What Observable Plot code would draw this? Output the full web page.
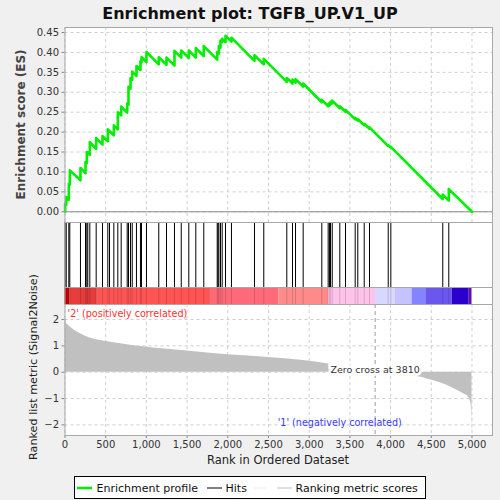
<!DOCTYPE html>
<html><head><meta charset="utf-8">
<script src="https://cdn.jsdelivr.net/npm/d3@7"></script>
<script src="https://cdn.jsdelivr.net/npm/@observablehq/plot@0.6"></script>
<style>
html,body{margin:0;padding:0;background:#f0f0f0;}
#root{position:relative;width:500px;height:500px;background:#f0f0f0;overflow:hidden;font-family:"DejaVu Sans",sans-serif;}
#root svg{position:absolute;left:0;}
</style></head><body><div id="root"></div>
<script>
// ---------- data ----------
const title = "Enrichment plot: TGFB_UP.V1_UP";
const hitRanks = [2, 15, 47, 59, 190, 252, 268, 280, 305, 383, 461, 526, 547, 600, 649, 690, 764, 780, 805, 826, 878, 927, 940, 1001, 1152, 1247, 1345, 1428, 1521, 1607, 1705, 1870, 1880, 1890, 1910, 1931, 1972, 2045, 2328, 2442, 2725, 2795, 2832, 2926, 3155, 3233, 3249, 3262, 3283, 3376, 3446, 3565, 3597, 3676, 3741, 3971, 4003, 4641, 4715];
const esRanks = [0, 2, 2, 15, 15, 47, 47, 59, 59, 190, 190, 252, 252, 268, 268, 305, 305, 383, 383, 461, 461, 526, 526, 600, 600, 649, 649, 690, 690, 764, 764, 780, 780, 805, 805, 826, 826, 878, 878, 927, 927, 940, 940, 1001, 1001, 1152, 1152, 1247, 1247, 1345, 1345, 1428, 1428, 1521, 1521, 1607, 1607, 1705, 1705, 1870, 1870, 1890, 1890, 1910, 1910, 1931, 1931, 1972, 1972, 2045, 2045, 2328, 2328, 2442, 2442, 2725, 2725, 2795, 2795, 2832, 2832, 2926, 2926, 3155, 3155, 3233, 3233, 3249, 3249, 3262, 3262, 3283, 3283, 3376, 3376, 3446, 3446, 3565, 3565, 3597, 3597, 3676, 3676, 3741, 3741, 3971, 3971, 4003, 4003, 4641, 4641, 4715, 4715, 5000];
const esValues = [0, 0, 0.02, 0.018, 0.037, 0.030, 0.070, 0.068, 0.104, 0.079, 0.110, 0.097, 0.125, 0.122, 0.150, 0.143, 0.175, 0.158, 0.185, 0.169, 0.190, 0.177, 0.207, 0.192, 0.217, 0.207, 0.250, 0.242, 0.264, 0.249, 0.272, 0.269, 0.314, 0.309, 0.335, 0.331, 0.352, 0.341, 0.366, 0.356, 0.378, 0.375, 0.388, 0.376, 0.401, 0.370, 0.388, 0.369, 0.387, 0.367, 0.404, 0.387, 0.405, 0.386, 0.405, 0.387, 0.411, 0.391, 0.416, 0.382, 0.401, 0.397, 0.416, 0.412, 0.430, 0.426, 0.434, 0.426, 0.442, 0.427, 0.437, 0.379, 0.393, 0.370, 0.384, 0.326, 0.336, 0.322, 0.332, 0.324, 0.333, 0.314, 0.322, 0.275, 0.281, 0.265, 0.270, 0.267, 0.273, 0.270, 0.276, 0.272, 0.279, 0.260, 0.265, 0.251, 0.256, 0.232, 0.236, 0.229, 0.233, 0.217, 0.221, 0.208, 0.212, 0.165, 0.167, 0.161, 0.163, 0.032, 0.043, 0.028, 0.057, 0.0];
const metricRanks = [0, 5, 15, 35, 68, 120, 190, 313, 436, 682, 927, 1296, 1500, 2000, 2500, 2900, 3260, 3500, 3810, 4000, 4340, 4500, 4736, 4896, 4950, 4985, 4997, 5000];
const metricValues = [2.05, 1.98, 1.88, 1.8, 1.71, 1.58, 1.46, 1.29, 1.2, 1.08, 0.98, 0.86, 0.8, 0.66, 0.56, 0.45, 0.3, 0.15, 0, -0.1, -0.17, -0.3, -0.56, -0.82, -0.92, -1.15, -1.6, -2.3];
const barStarts = [0, 59, 396, 1787, 2627, 3241, 3814, 4060, 4265, 4441, 4757, 4961];
const barEnds = [59, 396, 1787, 2627, 3241, 3814, 4060, 4265, 4441, 4757, 4961, 5000];
const xTicks = [0, 500, 1000, 1500, 2000, 2500, 3000, 3500, 4000, 4500, 5000];
const esTicks = [0, 0.05, 0.10, 0.15, 0.20, 0.25, 0.30, 0.35, 0.40, 0.45];
const metricTicks = [-2, -1, 0, 1, 2];
const zeroCross = 3810;
const posLabel = "'2' (positively correlated)";
const negLabel = "'1' (negatively correlated)";

// ---------- styles ----------
const barPalette = ["#cc0000", "#e63c3c", "#ff5454", "#ff6a78", "#ff8a8a", "#ffc2e8", "#d8d8ff", "#c6c2ff", "#8484ff", "#6a58ee", "#2c00cc", "#5a10b0"];
const W = 500, ML = 64.5, MR = 8;
const xDomain = [0, 5252];
const gridStyle = {stroke: "#cfcfcf", strokeOpacity: 1, strokeDasharray: "3,3"};
const baseStyle = {background: "transparent", fontFamily: "DejaVu Sans, sans-serif", fontSize: "10px", color: "#333", overflow: "visible"};
const root = document.getElementById("root");

const esIdx = d3.range(esRanks.length);
const metIdx = d3.range(metricRanks.length);
const barIdx = d3.range(barStarts.length);

// top panel: enrichment score
const topPlot = Plot.plot({
  width: W, height: 222, marginTop: 27, marginBottom: 0, marginLeft: ML, marginRight: MR,
  style: baseStyle,
  x: {domain: xDomain, axis: null},
  y: {domain: [-0.0269, 0.4626]},
  marks: [
    Plot.frame({fill: "white", stroke: null}),
    Plot.gridX(xTicks, gridStyle),
    Plot.gridY(esTicks, gridStyle),
    Plot.ruleY([0], {stroke: "#8a8a8a"}),
    Plot.line(esIdx, {x: i => esRanks[i], y: i => esValues[i], stroke: "#00ee00", strokeWidth: 2.6}),
    Plot.axisY(esTicks, {tickSize: 3, tickPadding: 3, tickFormat: d3.format(".2f"), label: null, stroke: "#888"}),
    Plot.frame({stroke: "#a8a8a8"})
  ]
});
topPlot.style.top = "0px";
root.appendChild(topPlot);

// middle panel: hits + colour bar
const hitPlot = Plot.plot({
  width: W, height: 84, marginTop: 1, marginBottom: 1, marginLeft: ML, marginRight: MR,
  style: baseStyle,
  x: {domain: xDomain, axis: null},
  y: {domain: [0, 82], axis: null},
  color: {type: "ordinal", domain: barIdx, range: barPalette},
  marks: [
    Plot.frame({fill: "white", stroke: null}),
    Plot.rect(barIdx, {x1: i => barStarts[i], x2: i => barEnds[i], y1: 0, y2: 17, fill: i => i}),
    Plot.ruleX(hitRanks, {y1: 0, y2: 17, stroke: "black", strokeOpacity: 0.15}),
    Plot.ruleX(hitRanks, {y1: 17, y2: 81.5, stroke: "black"}),
    Plot.ruleY([17], {stroke: "#a8a8a8"}),
    Plot.frame({stroke: "#a8a8a8"})
  ]
});
hitPlot.style.top = "221px";
root.appendChild(hitPlot);

// bottom panel: ranked list metric
const botPlot = Plot.plot({
  width: W, height: 171, marginTop: 0, marginBottom: 40, marginLeft: ML, marginRight: MR,
  style: baseStyle,
  x: {domain: xDomain},
  y: {domain: [-2.402, 2.569]},
  marks: [
    Plot.frame({fill: "white", stroke: null}),
    Plot.gridX(xTicks, gridStyle),
    Plot.gridY(metricTicks, gridStyle),
    Plot.areaY(metIdx, {x: i => metricRanks[i], y: i => metricValues[i], fill: "#c0c0c0", curve: "monotone-x"}),
    Plot.ruleX([zeroCross], {stroke: "#9a9a9a", strokeDasharray: "4,3"}),
    Plot.text([`Zero cross at ${zeroCross}`], {x: zeroCross, y: 0, dy: -2, fontSize: 9.5, fill: "#333", stroke: "white", strokeWidth: 5.5, paintOrder: "stroke", strokeLinejoin: "miter"}),
    Plot.text([posLabel], {frameAnchor: "top-left", dx: 2.5, dy: 5.5, textAnchor: "start", fontSize: 9.6, fill: "#ff3030"}),
    Plot.text([negLabel], {frameAnchor: "bottom", dx: 61, dy: -10, fontSize: 9.6, fill: "#3a3aff"}),
    Plot.axisX(xTicks, {tickSize: 3, tickPadding: 2, tickFormat: d3.format(","), label: null, stroke: "#888"}),
    Plot.axisY(metricTicks, {tickSize: 3, tickPadding: 3, tickFormat: d3.format("d"), label: null, stroke: "#888"}),
    Plot.frame({stroke: "#a8a8a8"})
  ]
});
botPlot.style.top = "304px";
root.appendChild(botPlot);

// overlay: titles & legend
const ov = d3.select(root).append("svg")
  .attr("width", 500).attr("height", 500)
  .style("top", "0px").style("pointer-events", "none")
  .style("font-family", "DejaVu Sans, sans-serif");
ov.append("text").attr("x", 250).attr("y", 13).attr("text-anchor", "middle").attr("dominant-baseline", "central")
  .attr("font-weight", "bold").attr("font-size", 16).attr("fill", "#111").text(title);
ov.append("text").attr("transform", "translate(21,124.5) rotate(-90)").attr("text-anchor", "middle").attr("dominant-baseline", "central")
  .attr("font-weight", "bold").attr("font-size", 12).attr("fill", "#444").text("Enrichment score (ES)");
ov.append("text").attr("transform", "translate(33.5,367) rotate(-90)").attr("text-anchor", "middle").attr("dominant-baseline", "central")
  .attr("font-size", 11.2).attr("fill", "#222").text("Ranked list metric (Signal2Noise)");
ov.append("text").attr("x", 278).attr("y", 460).attr("text-anchor", "middle").attr("dominant-baseline", "central")
  .attr("font-size", 11.5).attr("fill", "#222").text("Rank in Ordered Dataset");

const lg = ov.append("g");
lg.append("rect").attr("x", 74.5).attr("y", 476.5).attr("width", 351).attr("height", 22).attr("fill", "white").attr("stroke", "black");
const ly = 488;
const items = [
  {x1: 77, x2: 92, color: "#00ee00", w: 2.5, tx: 96.5, label: "Enrichment profile"},
  {x1: 207, x2: 222, color: "#000", w: 1, tx: 225.5, label: "Hits"},
  {x1: 253, x2: 267, color: "#ececec", w: 1, tx: null, label: ""},
  {x1: 277, x2: 292, color: "#c0c0c0", w: 1, tx: 295.5, label: "Ranking metric scores"}
];
items.forEach(it => {
  lg.append("line").attr("x1", it.x1).attr("x2", it.x2).attr("y1", ly).attr("y2", ly).attr("stroke", it.color).attr("stroke-width", it.w);
  if (it.tx != null) lg.append("text").attr("x", it.tx).attr("y", ly).attr("dominant-baseline", "central").attr("font-size", 11).attr("fill", "#111").text(it.label);
});
</script>
</body></html>
